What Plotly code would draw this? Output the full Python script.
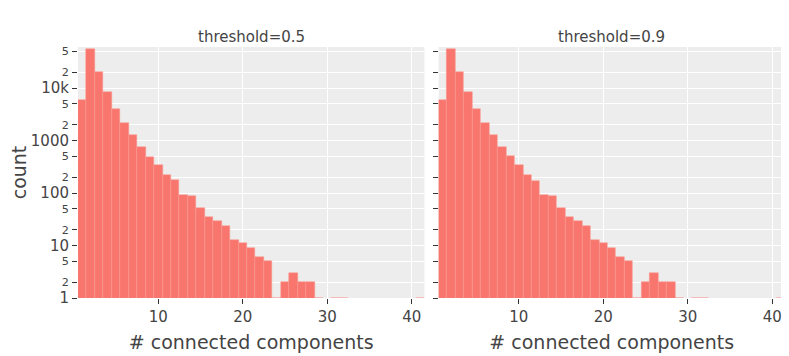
import pandas as pd
import plotly.express as px

components = list(range(1, 42))
# counts per number of connected components (0 = empty bin)
counts_05 = [6050, 55500, 20200, 8500, 3970, 2180, 1290, 760, 497, 339,
             221, 174, 92, 88, 53, 35, 29, 24, 13, 11,
             9, 6, 5, 1, 2, 3, 2, 2, 1, 0,
             1, 1, 0, 0, 0, 0, 0, 0, 0, 0, 1]
counts_09 = [5990, 55500, 20200, 8500, 3970, 2180, 1285, 760, 500, 339,
             221, 173, 92, 88, 53, 35, 30, 24, 13, 11,
             9, 6, 5, 1, 2, 3, 2, 2, 1, 0,
             1, 1, 0, 0, 0, 0, 0, 0, 0, 0, 1]
thresholds = [0.5, 0.9]

df = pd.concat([
  pd.DataFrame({"# connected components": components, "count": counts_05, "threshold": thresholds[0]}),
  pd.DataFrame({"# connected components": components, "count": counts_09, "threshold": thresholds[1]}),
])
df = df[df["count"] > 0]

fig = px.bar(df, x="# connected components", y="count", facet_col="threshold",
             log_y=True, template="ggplot2", facet_col_spacing=0.02)
fig.update_traces(marker_color="#F8766D", marker_line=dict(color="#F99A93", width=0.5))
# page body adds 8px offset, so margins are shifted accordingly
fig.update_layout(
  width=789, height=356, bargap=0,
  margin=dict(l=70, r=12, t=39, b=66, autoexpand=False),
  font=dict(family="DejaVu Sans", size=15, color="#444"),
  showlegend=False,
)
fig.update_yaxes(range=[0, 4.785], tickfont_size=15, automargin=False)
fig.update_yaxes(title_font_size=19, title_standoff=14, automargin=True, col=1)
fig.update_xaxes(range=[0.5, 41.5], title_font_size=19, title_standoff=10,
                 tickfont_size=15, automargin=False)
fig.for_each_annotation(lambda a: a.update(font_size=15, yshift=-1))

fig.write_html("out.html")
